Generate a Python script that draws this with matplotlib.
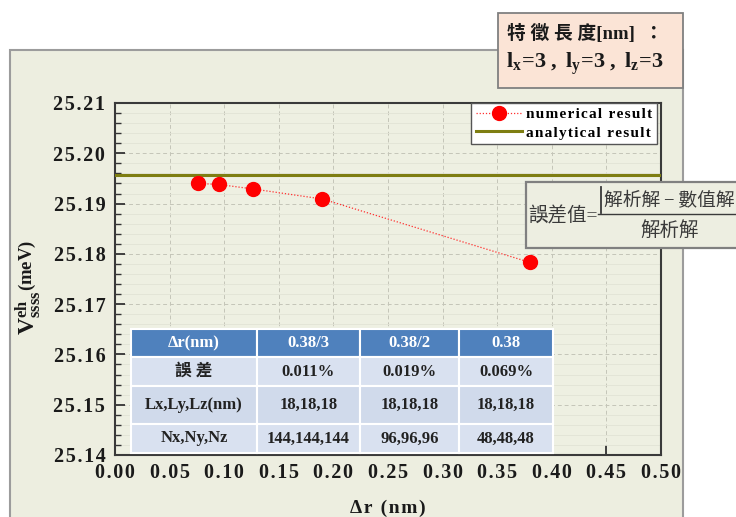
import matplotlib
matplotlib.use("Agg")
import matplotlib.pyplot as plt
from matplotlib.patches import Rectangle
from matplotlib.lines import Line2D
from matplotlib.ticker import MultipleLocator

# ---- data -------------------------------------------------------------
dr_nm = [0.38 / 5, 0.38 / 4, 0.38 / 3, 0.38 / 2, 0.38]
v_numerical = [25.1940, 25.1938, 25.1929, 25.1909, 25.1783]
v_analytical = 25.1957

x_ticks = [0.00, 0.05, 0.10, 0.15, 0.20, 0.25, 0.30, 0.35, 0.40, 0.45, 0.50]
y_ticks = [25.14, 25.15, 25.16, 25.17, 25.18, 25.19, 25.20, 25.21]

table_header = ["\u0394r(nm)", "0.38/3", "0.38/2", "0.38"]
table_rows = [
    ["誤 差", "0.011%", "0.019%", "0.069%"],
    ["Lx,Ly,Lz(nm)", "18,18,18", "18,18,18", "18,18,18"],
    ["Nx,Ny,Nz", "144,144,144", "96,96,96", "48,48,48"],
]

legend_labels = ["numerical result", "analytical result"]

# ---- style --------------------------------------------------------------
SERIF = ["Liberation Serif", "DejaVu Serif"]
CJK_SERIF = ["Liberation Serif", "Noto Sans CJK TC", "DejaVu Sans"]
plt.rcParams["font.family"] = SERIF
plt.rcParams["mathtext.fontset"] = "custom"
plt.rcParams["mathtext.rm"] = "Liberation Serif"
plt.rcParams["mathtext.bf"] = "Liberation Serif:bold"
plt.rcParams["mathtext.it"] = "Liberation Serif:italic"

HAIR = "\u200a"
THIN = "\u2009"


def spaced(s):
    """Open up the letter spacing of a label with hair spaces."""
    return HAIR.join(s)


W, H = 736, 517
fig = plt.figure(figsize=(W / 100, H / 100), dpi=100)
fig.patch.set_facecolor("white")


def fx(x):
    return x / W


def fy(y):
    return 1 - y / H


def frect(x0, y0, x1, y1, **kw):
    r = Rectangle((fx(x0), fy(y1)), fx(x1) - fx(x0), fy(y0) - fy(y1),
                  transform=fig.transFigure, **kw)
    fig.add_artist(r)
    return r


# background panel
frect(10, 50, 683, 530, facecolor="#EDEEE0", edgecolor="#9C9C9C", lw=1.5, zorder=0)

# ---- axes -------------------------------------------------------------
ax = fig.add_axes([fx(115), fy(455), fx(661) - fx(115), fy(103) - fy(455)])
ax.set_facecolor("#EEF0E2")
ax.set_zorder(1)

ax.axhline(v_analytical, color="#7E7E12", lw=2.2, zorder=3)
ax.plot(dr_nm, v_numerical, ls=(0, (1, 1.5)), lw=0.9, color="#FF3030",
        marker="o", ms=10, mfc="#FF0000", mec="#FF0000", zorder=4)

ax.set_xlim(0.0, 0.5)
ax.set_ylim(25.14, 25.21)
ax.set_xticks(x_ticks)
ax.set_yticks(y_ticks)
ax.set_xticklabels([spaced(f"{v:.2f}") for v in x_ticks])
ax.set_yticklabels([spaced(f"{v:.2f}") for v in y_ticks])
ax.yaxis.set_minor_locator(MultipleLocator(0.002))

ax.grid(True, which="major", color="#C4C5B8", ls=(0, (4, 3)), lw=0.7)
ax.grid(True, which="minor", axis="y", color="#E2E3D6", ls="-", lw=0.6)
ax.set_axisbelow(True)

ax.tick_params(axis="both", which="major", direction="in", length=7, width=1.3,
               color="#333333", labelsize=14.5, pad=7)
ax.tick_params(axis="y", which="minor", direction="in", length=4, width=1.0,
               color="#333333")
ax.tick_params(axis="x", pad=6)
for lab in ax.get_xticklabels() + ax.get_yticklabels():
    lab.set_fontweight("bold")
    lab.set_color("#1A1A1A")
for sp in ax.spines.values():
    sp.set_color("#3A3A3A")
    sp.set_linewidth(1.5)

# legend
handles = [
    Line2D([], [], ls=(0, (1, 1.5)), lw=0.9, color="#FF3030", marker="o", ms=10,
           mfc="#FF0000", mec="#FF0000"),
    Line2D([], [], color="#7E7E12", lw=2.2),
]
leg = ax.legend(handles, [spaced(s) for s in legend_labels], loc="upper right",
                bbox_to_anchor=((657 - 115) / 546, 1.0), borderaxespad=0,
                frameon=True, fancybox=False, framealpha=1, edgecolor="#555555",
                handlelength=3.0, handletextpad=0.3, labelspacing=0.3,
                borderpad=0.3, prop={"family": SERIF, "weight": "bold", "size": 11})
leg.get_frame().set_linewidth(1.0)
leg.set_zorder(6)

# axis labels (rotated: the symbol sits below, the unit above)
fig.text(fx(28), fy(290), r"$\mathbf{V^{eh}_{ssss}}$", rotation=90,
         ha="center", va="top", fontsize=17, color="#1A1A1A")
fig.text(fx(27), fy(291), r"$\mathbf{(meV)}$", rotation=90,
         ha="center", va="bottom", fontsize=13.5, color="#1A1A1A")
fig.text(fx(388), fy(508), spaced("\u0394r (nm)"), ha="center", va="center",
         fontsize=14, fontweight="bold", color="#1A1A1A")

# ---- parameter table -------------------------------------------------
col_edges = [131, 257, 360, 459, 553]
row_edges = [329, 357, 386, 424, 453]
all_rows = [table_header] + table_rows
for r, row in enumerate(all_rows):
    y0, y1 = row_edges[r], row_edges[r + 1]
    face = "#4F81BD" if r == 0 else ("#D9E1F0" if r % 2 else "#D0DAEB")
    for c, txt in enumerate(row):
        x0, x1 = col_edges[c], col_edges[c + 1]
        frect(x0, y0, x1, y1, facecolor=face, edgecolor="white", lw=1.5, zorder=5)
        fig.text(fx((x0 + x1) / 2), fy((y0 + y1) / 2), txt, ha="center", va="center",
                 fontsize=12, fontweight="bold", family=CJK_SERIF,
                 color="white" if r == 0 else "#222222", zorder=6)

# ---- characteristic length box ---------------------------------------
frect(498, 13, 683, 88, facecolor="#FBE4D6", edgecolor="#808080", lw=1.3, zorder=5)
fig.text(fx(507), fy(33), "特 徵 長 度[nm]  ：", ha="left", va="center", fontsize=13.5,
         fontweight="bold", family=CJK_SERIF, color="#1A1A1A", zorder=6)
fig.text(fx(506), fy(64),
         r"$\mathbf{l_x\!=\!3\ ,\ l_y\!=\!3\ ,\ l_z\!=\!3}$",
         ha="left", va="center", fontsize=16, color="#1A1A1A", zorder=6)

# ---- error definition box --------------------------------------------
frect(526, 182, 760, 248, facecolor="#EDEEE1", edgecolor="#808080", lw=1.6, zorder=5)
fig.text(fx(528), fy(216), "誤差值=", ha="left", va="center", fontsize=14,
         family=CJK_SERIF, color="#3A3A3A", zorder=6)
fig.text(fx(604), fy(201), f"解析解{THIN}\u2212{THIN}數值解", ha="left", va="center",
         fontsize=13.5, family=CJK_SERIF, color="#3A3A3A", zorder=6)
fig.text(fx(670), fy(231), "解析解", ha="center", va="center", fontsize=14,
         family=CJK_SERIF, color="#3A3A3A", zorder=6)
fig.add_artist(Line2D([fx(601), fx(601)], [fy(187), fy(213)], color="#3A3A3A", lw=1.3,
                      transform=fig.transFigure, zorder=6))
fig.add_artist(Line2D([fx(598), fx(740)], [fy(214), fy(214)], color="#3A3A3A", lw=1.0,
                      transform=fig.transFigure, zorder=6))

fig.savefig("out.png", dpi=100)
